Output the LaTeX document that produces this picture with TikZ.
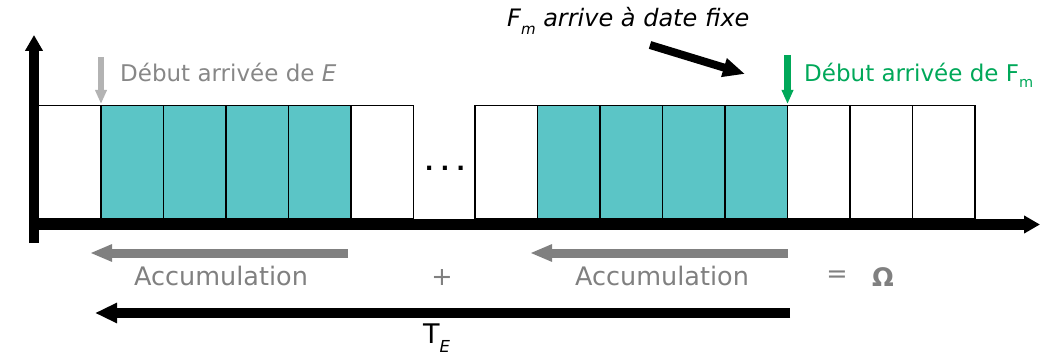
\documentclass[tikz,border=0pt]{standalone}
\usepackage{fontspec}
\setmainfont{DejaVu Sans}
\usetikzlibrary{arrows.meta,positioning}
\definecolor{SlotTeal}{HTML}{5BC5C6}
\definecolor{ArrivalGrey}{HTML}{B3B3B3}
\definecolor{ArrivalGreen}{HTML}{00A859}
\definecolor{LabelGrey}{HTML}{878787}
\definecolor{AccGrey}{HTML}{808080}
\newcommand{\lowsub}[3]{\raisebox{-#1}{\fontsize{#2}{#2}\selectfont #3}}

\begin{document}
\begin{tikzpicture}[
    x=1pt, y=-1pt,
    slot/.style={
        draw=black,
        line width=1.9pt,
        anchor=north west,
        minimum width=62.5pt,
        minimum height=113.5pt,
        inner sep=0pt,
        outer sep=0pt
    },
    axis/.style={line width=10pt, -{Triangle[length=16pt,width=17pt]}},
    arrival/.style={line width=6.5pt, -{Triangle[length=14pt,width=11pt]}},
    pointer/.style={line width=8pt, -{Triangle[length=22pt,width=18pt]}},
    span/.style={line width=9pt, draw=AccGrey,
                 -{Triangle[length=22pt,width=16pt]}},
    total/.style={line width=9.5pt, -{Triangle[length=22pt,width=19pt]}},
    arrival label/.style={inner sep=0pt, anchor=base west,
                          font=\fontsize{23}{27}\selectfont},
    acc label/.style={inner sep=0pt, text=AccGrey,
                      font=\fontsize{25.5}{30}\selectfont}
]
    \useasboundingbox (0,0) rectangle (1041,358);

    \foreach \i/\f in {0/white,1/SlotTeal,2/SlotTeal,3/SlotTeal,4/SlotTeal,5/white} {
        \node[slot, fill=\f] (l\i) at ({38.5+62.5*\i},105.5) {};
    }
    \foreach \i/\f in {0/white,1/SlotTeal,2/SlotTeal,3/SlotTeal,4/SlotTeal,
                       5/white,6/white,7/white} {
        \node[slot, fill=\f] (r\i) at ({475+62.5*\i},105.5) {};
    }

    \coordinate (origin) at (29,224.5);
    \coordinate (xend) at (1040,224.5);
    \coordinate (ybot) at (34,243);
    \coordinate (yend) at (34,35);
    \draw[axis] (origin) -- (xend);
    \draw[axis] (ybot) -- (yend);

    \node[inner sep=0pt, anchor=base, font=\fontsize{23}{27}\selectfont\bfseries]
        (gap) at (445,171) {.\kern7pt.\kern7pt.};

    \coordinate (eFrom) at (101,57);
    \draw[arrival, draw=ArrivalGrey] (eFrom) -- ([yshift=1.5pt]l1.north west);
    \node[arrival label, text=LabelGrey] (eLabel) at (120,82)
        {Début arrivée de \textit{E}};

    \coordinate (fFrom) at (787.5,55);
    \draw[arrival, draw=ArrivalGreen] (fFrom) -- ([yshift=1.5pt]r4.north east);
    \node[arrival label, text=ArrivalGreen] (fLabel) at (804,82)
        {Début arrivée de F\lowsub{6pt}{14.5}{m}};

    \node[arrival label, font=\fontsize{24}{28}\selectfont\itshape] (fixLabel)
        at (507,27) {F\lowsub{8pt}{15}{m} arrive à date fixe};
    \coordinate (fixFrom) at (650,45);
    \coordinate (fixTo) at (745,74);
    \draw[pointer] (fixFrom) -- (fixTo);

    \coordinate (accAfrom) at (348,253);
    \coordinate (accAto) at (90,253);
    \draw[span] (accAfrom) -- (accAto);
    \node[acc label] (accA) at (221,276) {Accumulation};

    \node[acc label] (plus) at (442,278) {+};

    \coordinate (accBfrom) at (788,253);
    \coordinate (accBto) at (530,253);
    \draw[span] (accBfrom) -- (accBto);
    \node[acc label] (accB) at (662,276) {Accumulation};

    \node[acc label] (equals) at (837,277) {=};
    \node[acc label, font=\fontsize{25.5}{30}\selectfont\bfseries] (omega)
        at (883,277) {Ω};

    \coordinate (teFrom) at (790,313);
    \coordinate (teTo) at (95,313);
    \draw[total] (teFrom) -- (teTo);
    \node[inner sep=0pt, anchor=base west, font=\fontsize{27}{30}\selectfont]
        (teLabel) at (423,343) {T\lowsub{9pt}{16.5}{\itshape E}};
\end{tikzpicture}
\end{document}
